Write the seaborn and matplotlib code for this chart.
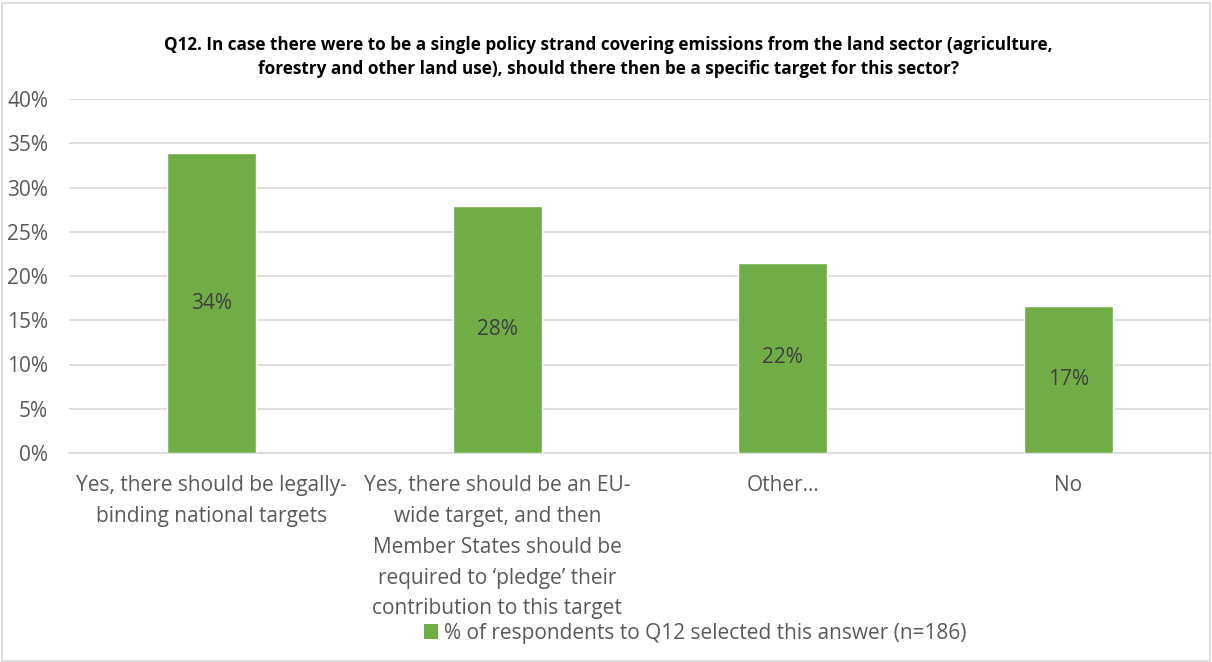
import matplotlib
matplotlib.use("Agg")
import matplotlib.pyplot as plt
from matplotlib.patches import Rectangle, Patch
from matplotlib.ticker import MultipleLocator, PercentFormatter
import seaborn as sns
import pandas as pd

categories = [
    "Yes, there should be legally-\nbinding national targets",
    "Yes, there should be an EU-\nwide target, and then\nMember States should be\nrequired to \u2018pledge\u2019 their\ncontribution to this target",
    "Other\u2026",
    "No",
]
counts = [63, 52, 40, 31]
n_total = 186
shares = [c / n_total * 100 for c in counts]
series_name = "% of respondents to Q12 selected this answer (n=186)"
title = ("Q12. In case there were to be a single policy strand covering emissions from the land sector (agriculture,\n"
         "forestry and other land use), should there then be a specific target for this sector?")

df = pd.DataFrame({"answer": categories, "share": shares})

sns.set_theme(style="white")
plt.rcParams["font.family"] = ["Open Sans", "DejaVu Sans"]

bar_color = "#70AD47"
text_color = "#595959"
fs = 15

fig = plt.figure(figsize=(12.12, 6.62), dpi=100)
ax = fig.add_axes([69 / 1212, 1 - 453 / 662, 1142 / 1212, 354 / 662])

sns.barplot(data=df, x="answer", y="share", color=bar_color, width=0.31,
            saturation=1, ax=ax, zorder=3)

ax.set_ylim(0, 40)
ax.set_xlim(-0.5, 3.5)
ax.yaxis.set_major_locator(MultipleLocator(5))
ax.yaxis.set_major_formatter(PercentFormatter(decimals=0))
ax.grid(axis="y", color="#D9D9D9", linewidth=1.2, zorder=0)
for s in ["top", "right", "left"]:
    ax.spines[s].set_visible(False)
ax.spines["bottom"].set_color("#D9D9D9")
ax.spines["bottom"].set_linewidth(1.2)
ax.set_xlabel("")
ax.set_ylabel("")
ax.tick_params(axis="both", length=0, labelsize=fs, labelcolor=text_color)
ax.tick_params(axis="y", pad=15)
ax.tick_params(axis="x", pad=16)
for lbl in ax.get_xticklabels():
    lbl.set_linespacing(1.61)

for i, v in enumerate(shares):
    ax.text(i, v / 2, f"{v:.0f}%", ha="center", va="center",
            fontsize=fs, color="#404040", zorder=4)

fig.text(608 / 1212, 1 - 57 / 662, title, ha="center", va="center",
         fontsize=12.35, fontweight="bold", color="#000000", linespacing=1.4,
         family=["Liberation Sans Narrow", "Open Sans", "DejaVu Sans"])

handle = Patch(facecolor=bar_color, edgecolor="none")
fig.legend([handle], [series_name], loc="center", bbox_to_anchor=(695 / 1212, 1 - 633 / 662),
           frameon=False, fontsize=fs, labelcolor=text_color,
           handlelength=0.7, handleheight=0.7, handletextpad=0.25)

fig.patches.append(Rectangle((0.002, 0.002), 0.996, 0.994, transform=fig.transFigure,
                             fill=False, edgecolor="#D9D9D9", linewidth=1.2))

fig.savefig("out.png", dpi=100)
